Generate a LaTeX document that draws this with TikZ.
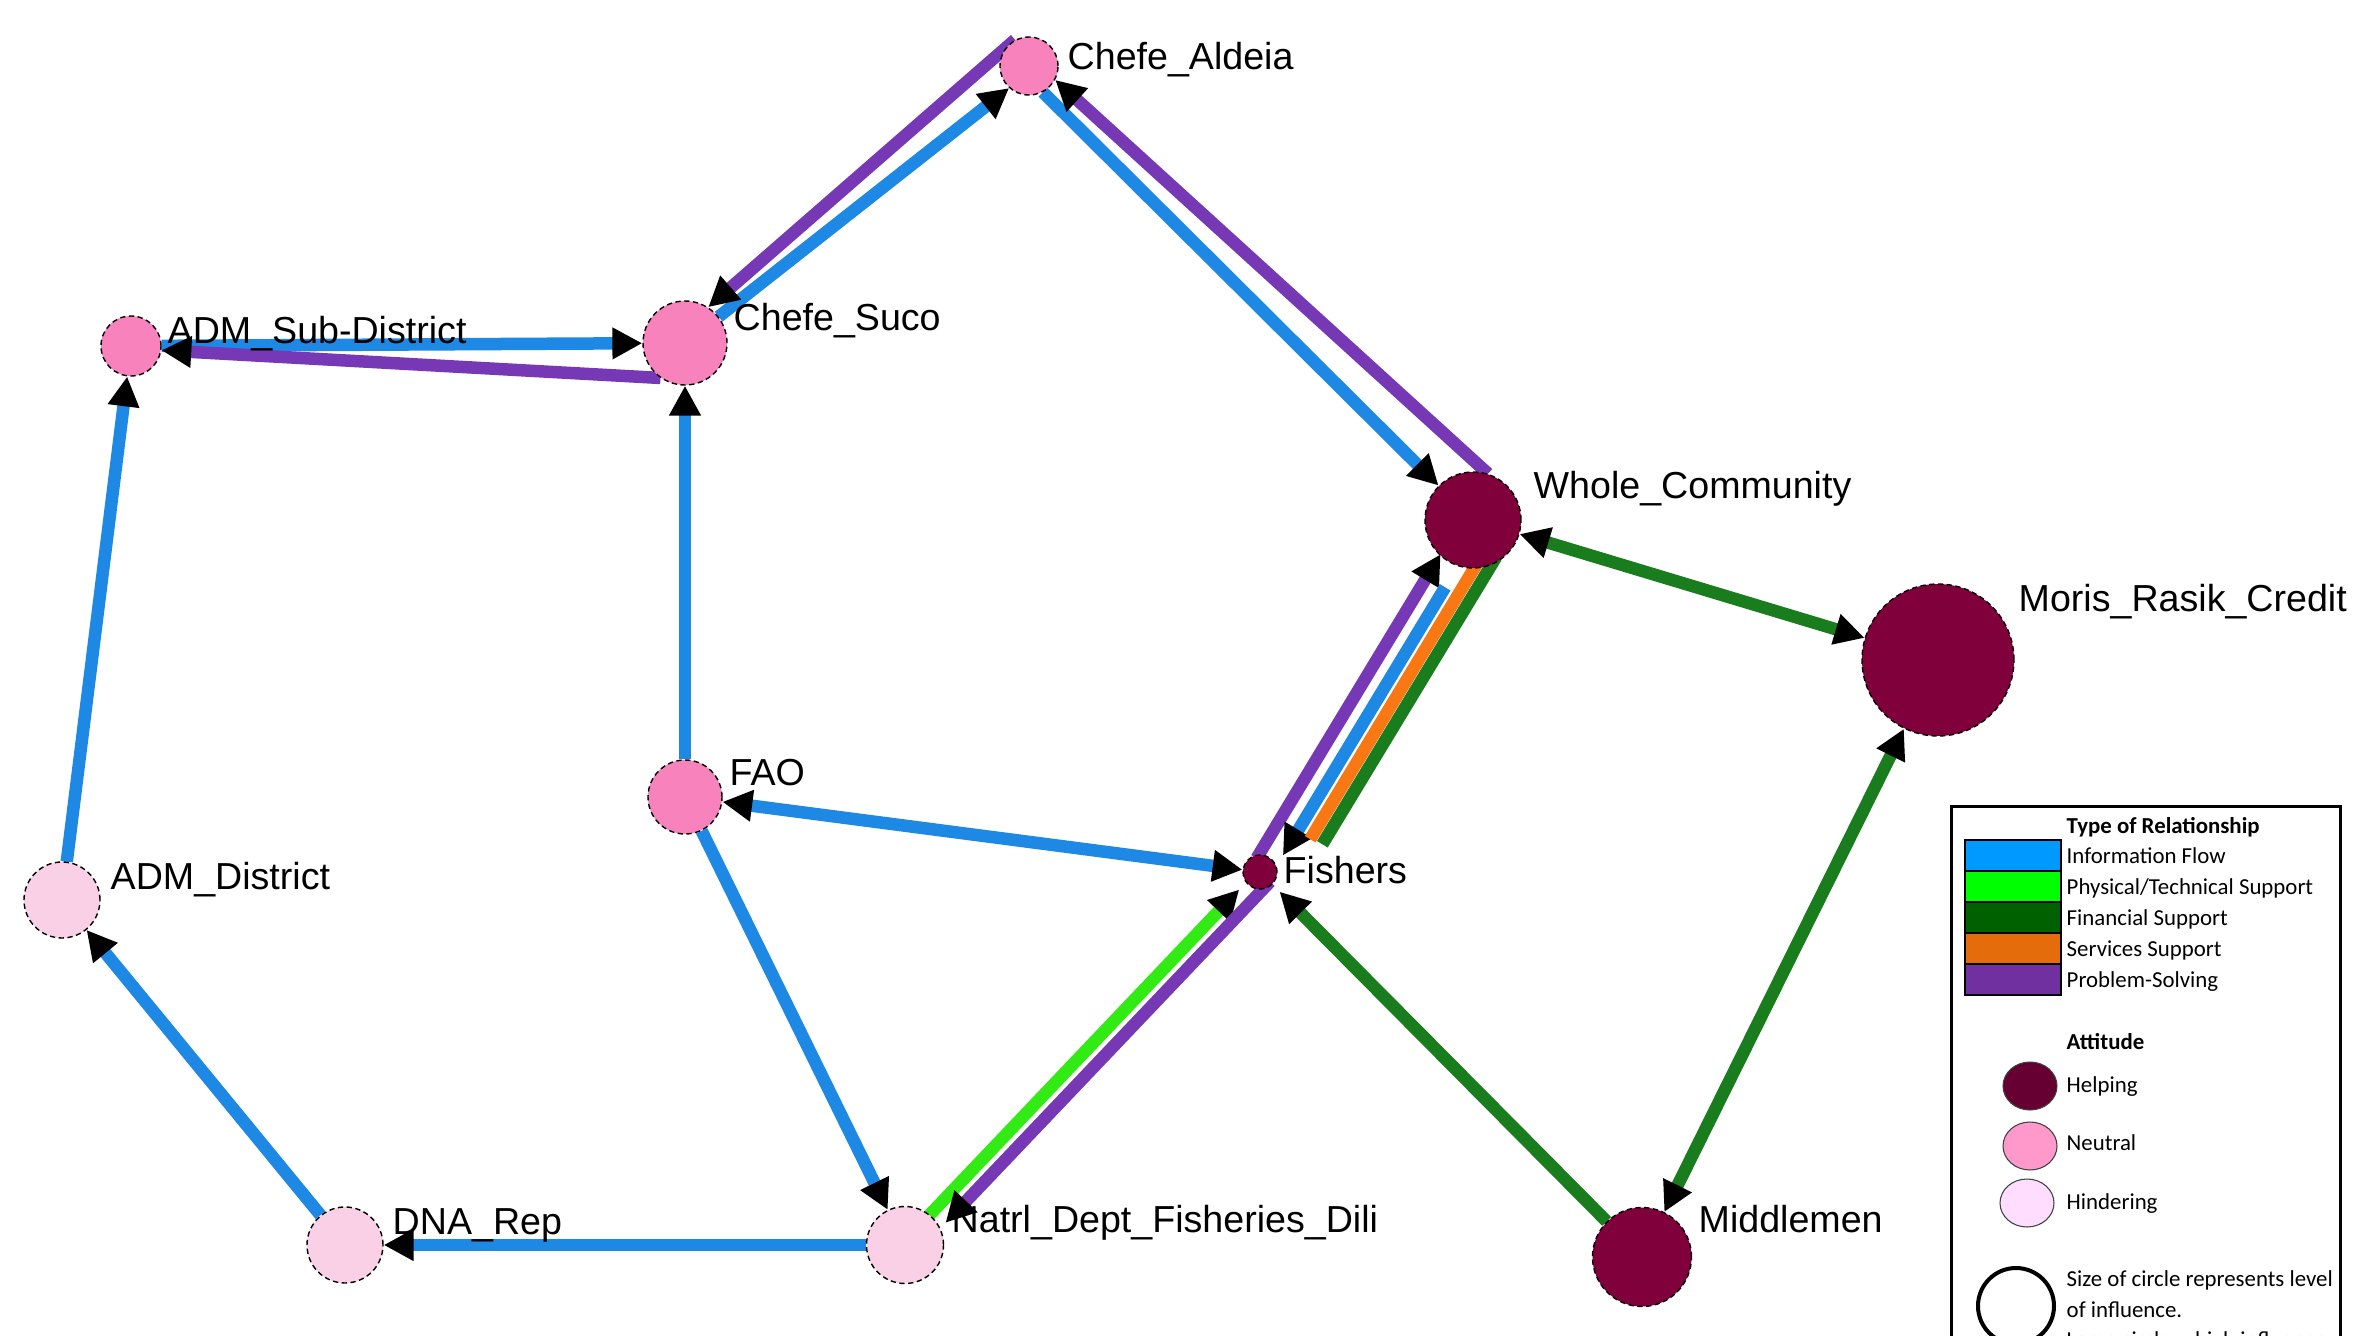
\documentclass[tikz,border=0pt]{standalone}
\usepackage{fontspec}
\setmainfont{Liberation Sans}
\newfontfamily\keyfont{Carlito}
\usetikzlibrary{arrows.meta,calc,backgrounds}
\definecolor{infoline}{RGB}{30,136,229}
\definecolor{physline}{RGB}{50,235,20}
\definecolor{finline}{RGB}{25,125,30}
\definecolor{servline}{RGB}{250,120,20}
\definecolor{probline}{RGB}{118,56,180}
\definecolor{helpcol}{RGB}{128,0,60}
\definecolor{neutcol}{RGB}{248,130,188}
\definecolor{hindcol}{RGB}{250,208,230}
\definecolor{keyblue}{RGB}{0,153,255}
\definecolor{keygreen}{RGB}{0,255,0}
\definecolor{keydkgreen}{RGB}{0,97,0}
\definecolor{keyorange}{RGB}{228,108,10}
\definecolor{keypurple}{RGB}{112,48,160}
\definecolor{keyhelp}{RGB}{102,0,51}
\definecolor{keyneut}{RGB}{255,153,204}
\definecolor{keyhind}{RGB}{255,221,255}
\newcommand{\actorfont}{\fontsize{10.7pt}{12pt}\selectfont}
\newcommand{\keytext}{\keyfont\fontsize{6.5pt}{7.8pt}\selectfont}

\begin{document}
\begin{tikzpicture}[
		actor/.style={circle,draw=black,line width=0.4pt,dash pattern=on 1.5pt off 1pt,inner sep=0pt},
		helping/.style={actor,fill=helpcol},
		neutral/.style={actor,fill=neutcol},
		hindering/.style={actor,fill=hindcol},
		tag/.style={anchor=west,inner sep=0pt,text height=0.27cm,text depth=0pt,font=\actorfont},
		keylabel/.style={anchor=west,inner sep=0pt,text height=0.147cm,text depth=0pt,font=\keytext},
		tie/.style={line width=0.125cm},
		info/.style={tie,draw=infoline},
		phys/.style={tie,draw=physline},
		fin/.style={tie,draw=finline},
		serv/.style={tie,draw=servline},
		prob/.style={tie,draw=probline},
		>={Triangle[length=8.5pt,width=8.5pt,color=black]}
	]
				\path[use as bounding box,clip] (0,0) rectangle (23.69,13.35);
				\node[neutral,minimum size=0.58cm] (aldeia) at (10.29,12.69) {};
				\node[neutral,minimum size=0.84cm] (suco) at (6.85,9.92) {};
				\node[neutral,minimum size=0.60cm] (subd) at (1.31,9.89) {};
				\node[hindering,minimum size=0.76cm] (dist) at (0.62,4.35) {};
				\node[hindering,minimum size=0.76cm] (dna) at (3.45,0.90) {};
				\node[hindering,minimum size=0.77cm] (natrl) at (9.05,0.90) {};
				\node[neutral,minimum size=0.74cm] (fao) at (6.85,5.38) {};
				\node[helping,minimum size=0.34cm] (fishers) at (12.60,4.63) {};
				\node[helping,minimum size=0.96cm] (whole) at (14.73,8.15) {};
				\node[helping,minimum size=1.52cm] (moris) at (19.38,6.75) {};
				\node[helping,minimum size=0.99cm] (middle) at (16.42,0.78) {};
				\node[tag] (aldeia-l) at (10.67,12.79) {Chefe\_Aldeia};
				\node[tag] (suco-l) at (7.33,10.18) {Chefe\_Suco};
				\node[tag] (subd-l) at (1.67,10.05) {ADM\_Sub-District};
				\node[tag] (dist-l) at (1.10,4.59) {ADM\_District};
				\node[tag] (dna-l) at (3.92,1.14) {DNA\_Rep};
				\node[tag] (natrl-l) at (9.51,1.16) {Natrl\_Dept\_Fisheries\_Dili};
				\node[tag] (fao-l) at (7.29,5.63) {FAO};
				\node[tag] (fishers-l) at (12.83,4.65) {Fishers};
				\node[tag] (whole-l) at (15.33,8.50) {Whole\_Community};
				\node[tag] (moris-l) at (20.18,7.37) {Moris\_Rasik\_Credit};
				\node[tag] (middle-l) at (16.98,1.16) {Middlemen};
				\begin{scope}[on background layer]
				\draw[info,->] (suco.38) -- (aldeia.228);
				\draw[prob,->] (aldeia.118) -- (suco.57);
				\draw[info,->] (aldeia.-62) -- (whole.135);
				\draw[prob,->] (whole.72) -- (aldeia.-28);
				\draw[info,->] (subd) -- (suco);
				\draw[prob,->] (suco.235) -- (subd.-8);
				\draw[info,->] (dist) -- (subd);
				\draw[info,->] (dna) -- (dist);
				\draw[info,->] (natrl) -- (dna);
				\draw[info,->] (fao) -- (suco);
				\draw[info,->] (fao) -- (natrl);
				\draw[info,<->] (fao) -- (fishers);
				\draw[prob,->,shorten <=0.10cm,shorten >=0.46cm] ($(fishers)!0.10cm!90:(whole)$) -- ($(whole)!0.10cm!-90:(fishers)$);
				\draw[info,->,shorten <=0.72cm,shorten >=0.26cm] ($(whole)!0.11cm!90:(fishers)$) -- ($(fishers)!0.11cm!-90:(whole)$);
				\draw[serv,shorten <=0.30cm,shorten >=0.54cm] ($(whole)!0.26cm!90:(fishers)$) -- ($(fishers)!0.26cm!-90:(whole)$);
				\draw[fin,shorten <=0.20cm,shorten >=0.56cm] ($(whole)!0.39cm!90:(fishers)$) -- ($(fishers)!0.39cm!-90:(whole)$);
				\draw[phys,->,shorten <=0.38cm,shorten >=0.27cm] ($(natrl)!0.03cm!90:(fishers)$) -- ($(fishers)!0.03cm!-90:(natrl)$);
				\draw[prob,->,shorten >=0.44cm] ($(fishers)!0.14cm!90:(natrl)$) -- ($(natrl)!0.14cm!-90:(fishers)$);
				\draw[fin,->,shorten >=0.10cm] (middle) -- (fishers);
				\draw[fin,<->] (whole) -- (moris);
				\draw[fin,<->] (moris) -- (middle);
				\end{scope}
				\draw[line width=0.03cm] (19.51,5.29) rectangle (23.40,-1);
				\node[keylabel,font=\keytext\bfseries] (rel-h) at (20.66,5.09) {Type of Relationship};
				\draw[line width=0.027cm,fill=keyblue] (19.65,4.95) rectangle (20.61,4.64);
				\draw[line width=0.027cm,fill=keygreen] (19.65,4.64) rectangle (20.61,4.33);
				\draw[line width=0.027cm,fill=keydkgreen] (19.65,4.33) rectangle (20.61,4.02);
				\draw[line width=0.027cm,fill=keyorange] (19.65,4.02) rectangle (20.61,3.71);
				\draw[line width=0.027cm,fill=keypurple] (19.65,3.71) rectangle (20.61,3.40);
				\node[keylabel] (rel-1) at (20.66,4.79) {Information Flow};
				\node[keylabel] (rel-2) at (20.66,4.48) {Physical/Technical Support};
				\node[keylabel] (rel-3) at (20.66,4.17) {Financial Support};
				\node[keylabel] (rel-4) at (20.66,3.86) {Services Support};
				\node[keylabel] (rel-5) at (20.66,3.55) {Problem-Solving};
				\node[keylabel,font=\keytext\bfseries] (att-h) at (20.66,2.93) {Attitude};
				\draw[draw=black!75,line width=0.3pt,fill=keyhelp] (20.30,2.49) ellipse (0.27 and 0.24);
				\draw[draw=black!75,line width=0.3pt,fill=keyneut] (20.30,1.89) ellipse (0.27 and 0.24);
				\draw[draw=black!75,line width=0.3pt,fill=keyhind] (20.27,1.32) ellipse (0.27 and 0.24);
				\node[keylabel] (att-1) at (20.66,2.50) {Helping};
				\node[keylabel] (att-2) at (20.66,1.92) {Neutral};
				\node[keylabel] (att-3) at (20.66,1.33) {Hindering};
				\draw[line width=0.04cm] (20.16,0.29) circle (0.38);
				\node[keylabel] (size-1) at (20.66,0.56) {Size of circle represents level};
				\node[keylabel] (size-2) at (20.66,0.25) {of influence.};
				\node[keylabel] (size-3) at (20.66,-0.05) {Large circle -- high influence};
			\end{tikzpicture}
\end{document}
